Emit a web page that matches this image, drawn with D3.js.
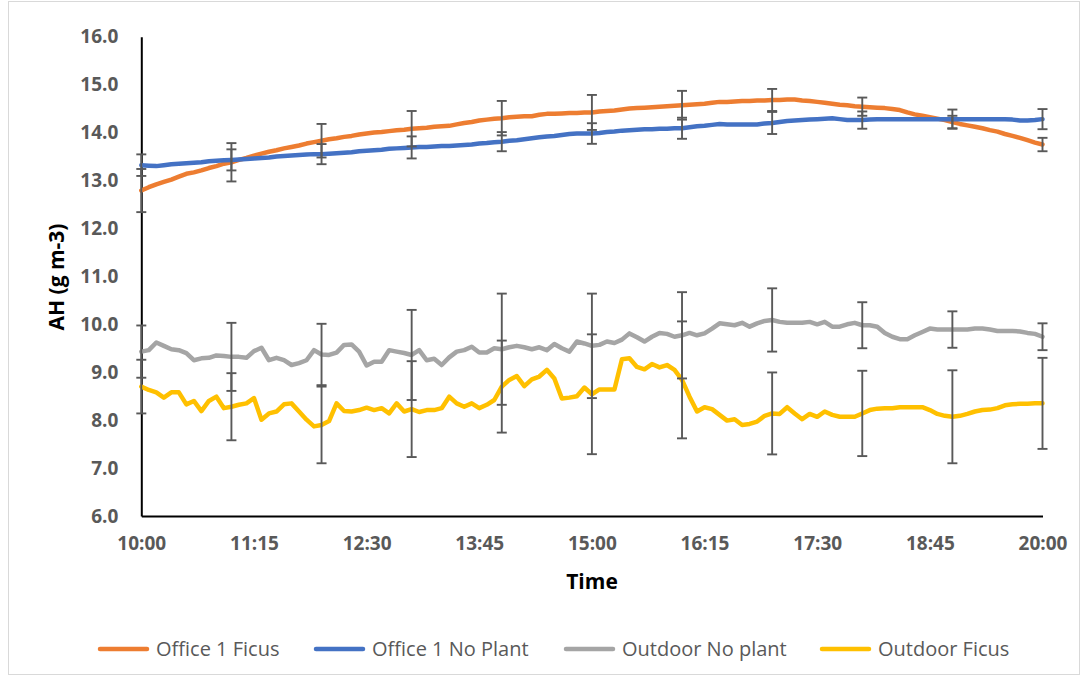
<!DOCTYPE html>
<html>
<head>
<meta charset="utf-8">
<script src="https://cdn.jsdelivr.net/npm/d3@7"></script>
<style>
  html, body { margin: 0; padding: 0; background: #fff; }
  svg { display: block; }
  text { font-family: "Open Sans", "Noto Sans", sans-serif; }
</style>
</head>
<body>
<svg id="chart" width="1088" height="678"></svg>
<script>
// Absolute humidity, 5-minute readings from 10:00 to 20:00
const startTime = "10:00";
const stepMinutes = 5;

const seriesNames = ["Office 1 Ficus", "Office 1 No Plant", "Outdoor No plant", "Outdoor Ficus"];
const seriesColors = ["#ED7D31", "#4472C4", "#A5A5A5", "#FFC000"];

const officeFicus = [
  12.79, 12.86, 12.92, 12.97, 13.02, 13.08, 13.14, 13.17, 13.21, 13.26, 13.30, 13.35, 13.38, 13.43, 13.47, 13.52,
  13.56, 13.60, 13.63, 13.67, 13.70, 13.73, 13.77, 13.80, 13.83, 13.86, 13.88, 13.91, 13.93, 13.96, 13.98, 14.00,
  14.01, 14.03, 14.05, 14.06, 14.08, 14.09, 14.10, 14.12, 14.13, 14.14, 14.17, 14.20, 14.22, 14.25, 14.27, 14.29,
  14.30, 14.32, 14.33, 14.34, 14.34, 14.37, 14.39, 14.39, 14.40, 14.41, 14.41, 14.42, 14.42, 14.44, 14.45, 14.46,
  14.48, 14.50, 14.51, 14.52, 14.53, 14.54, 14.55, 14.56, 14.57, 14.58, 14.59, 14.60, 14.62, 14.64, 14.64, 14.65,
  14.66, 14.66, 14.67, 14.67, 14.68, 14.68, 14.69, 14.69, 14.67, 14.66, 14.64, 14.62, 14.60, 14.58, 14.57, 14.55,
  14.54, 14.53, 14.52, 14.51, 14.49, 14.47, 14.42, 14.38, 14.35, 14.32, 14.29, 14.26, 14.22, 14.18, 14.15, 14.12,
  14.09, 14.05, 14.02, 13.97, 13.93, 13.89, 13.84, 13.79, 13.75
];

const officeNoPlant = [
  13.32, 13.31, 13.30, 13.32, 13.34, 13.35, 13.36, 13.37, 13.38, 13.40, 13.41, 13.42, 13.43, 13.44, 13.45, 13.46,
  13.47, 13.48, 13.50, 13.51, 13.52, 13.53, 13.54, 13.55, 13.55, 13.56, 13.57, 13.58, 13.59, 13.61, 13.62, 13.63,
  13.64, 13.66, 13.67, 13.68, 13.69, 13.70, 13.70, 13.71, 13.72, 13.72, 13.73, 13.74, 13.75, 13.77, 13.78, 13.80,
  13.81, 13.83, 13.84, 13.86, 13.88, 13.90, 13.92, 13.93, 13.95, 13.97, 13.98, 13.98, 13.98, 13.99, 14.01, 14.02,
  14.04, 14.05, 14.06, 14.07, 14.07, 14.08, 14.08, 14.09, 14.09, 14.11, 14.13, 14.14, 14.16, 14.18, 14.17, 14.17,
  14.17, 14.17, 14.17, 14.19, 14.20, 14.22, 14.24, 14.25, 14.26, 14.27, 14.28, 14.29, 14.30, 14.28, 14.26, 14.26,
  14.26, 14.27, 14.28, 14.28, 14.28, 14.28, 14.28, 14.28, 14.28, 14.28, 14.28, 14.28, 14.28, 14.28, 14.28, 14.28,
  14.28, 14.28, 14.28, 14.28, 14.27, 14.25, 14.25, 14.26, 14.28
];

const outdoorNoPlant = [
  9.43, 9.46, 9.62, 9.55, 9.48, 9.46, 9.40, 9.25, 9.29, 9.30, 9.35, 9.34, 9.32, 9.32, 9.30, 9.44,
  9.51, 9.25, 9.30, 9.25, 9.15, 9.19, 9.25, 9.46, 9.37, 9.36, 9.41, 9.57, 9.58, 9.43, 9.14, 9.22,
  9.22, 9.46, 9.43, 9.40, 9.36, 9.46, 9.25, 9.28, 9.15, 9.31, 9.43, 9.46, 9.53, 9.41, 9.41, 9.50,
  9.48, 9.52, 9.55, 9.52, 9.48, 9.52, 9.46, 9.59, 9.50, 9.43, 9.64, 9.60, 9.55, 9.57, 9.64, 9.61,
  9.68, 9.81, 9.73, 9.64, 9.74, 9.82, 9.80, 9.74, 9.77, 9.82, 9.77, 9.81, 9.91, 10.02, 10.00, 9.98,
  10.03, 9.95, 10.02, 10.07, 10.09, 10.05, 10.03, 10.03, 10.03, 10.05, 10.00, 10.05, 9.95, 9.95, 10.00, 10.03,
  9.98, 9.98, 9.95, 9.82, 9.74, 9.69, 9.69, 9.77, 9.84, 9.91, 9.89, 9.89, 9.89, 9.89, 9.89, 9.91,
  9.91, 9.89, 9.86, 9.86, 9.86, 9.85, 9.82, 9.80, 9.74
];

const outdoorFicus = [
  8.70, 8.63, 8.58, 8.47, 8.58, 8.58, 8.33, 8.40, 8.19, 8.40, 8.49, 8.25, 8.28, 8.32, 8.35, 8.46,
  8.01, 8.14, 8.18, 8.33, 8.35, 8.18, 8.01, 7.87, 7.90, 7.98, 8.35, 8.19, 8.18, 8.21, 8.26, 8.21,
  8.25, 8.14, 8.35, 8.18, 8.23, 8.17, 8.21, 8.21, 8.25, 8.49, 8.35, 8.28, 8.35, 8.25, 8.32, 8.42,
  8.70, 8.84, 8.92, 8.71, 8.85, 8.91, 9.05, 8.87, 8.45, 8.47, 8.50, 8.68, 8.54, 8.64, 8.64, 8.64,
  9.27, 9.29, 9.11, 9.06, 9.17, 9.10, 9.15, 9.05, 8.84, 8.49, 8.18, 8.27, 8.23, 8.11, 7.99, 8.02,
  7.90, 7.92, 7.97, 8.09, 8.14, 8.13, 8.27, 8.14, 8.02, 8.13, 8.07, 8.18, 8.11, 8.07, 8.07, 8.07,
  8.14, 8.21, 8.24, 8.25, 8.25, 8.27, 8.27, 8.27, 8.27, 8.21, 8.13, 8.09, 8.07, 8.09, 8.13, 8.18,
  8.21, 8.22, 8.25, 8.31, 8.33, 8.34, 8.34, 8.35, 8.35
];

// Hourly error bars (± one standard deviation)
const errorTimes = ["10:00", "11:00", "12:00", "13:00", "14:00", "15:00", "16:00", "17:00", "18:00", "19:00", "20:00"];
const officeFicusErr   = [0.45, 0.40, 0.35, 0.37, 0.36, 0.365, 0.30, 0.23, 0.19, 0.13, 0.14];
const officeNoPlantErr = [0.225, 0.22, 0.21, 0.23, 0.20, 0.215, 0.22, 0.23, 0.18, 0.20, 0.21];
const outdoorNoPlantErr = [0.545, 0.71, 0.64, 0.94, 1.16, 1.09, 0.90, 0.66, 0.48, 0.38, 0.28];
const outdoorFicusErr   = [0.56, 0.70, 0.80, 1.00, 0.96, 1.25, 1.22, 0.855, 0.89, 0.97, 0.95];

const xTickLabels = ["10:00", "11:15", "12:30", "13:45", "15:00", "16:15", "17:30", "18:45", "20:00"];
const yTicks = [6, 7, 8, 9, 10, 11, 12, 13, 14, 15, 16];

const toMinutes = s => { const [h, m] = s.split(":").map(Number); return h * 60 + m; };
const fmtTime = m => `${Math.floor(m / 60)}:${String(m % 60).padStart(2, "0")}`;

const values = [officeFicus, officeNoPlant, outdoorNoPlant, outdoorFicus];
const errors = [officeFicusErr, officeNoPlantErr, outdoorNoPlantErr, outdoorFicusErr];
const t0 = toMinutes(startTime);

const svg = d3.select("#chart");

// outer chart frame
svg.append("rect")
  .attr("x", 8.5).attr("y", 1.5).attr("width", 1071).attr("height", 673)
  .attr("fill", "#fff").attr("stroke", "#d9d9d9").attr("stroke-width", 1);

const x = d3.scaleLinear()
  .domain([toMinutes(xTickLabels[0]), toMinutes(xTickLabels[xTickLabels.length - 1])])
  .range([141.3, 1042.5]);
const y = d3.scaleLinear().domain([6, 16]).range([516, 36.7]);

// axes
const yAxis = svg.append("g")
  .attr("transform", `translate(${x.range()[0]},0)`)
  .call(d3.axisLeft(y).tickValues(yTicks).tickFormat(d3.format(".1f")).tickSize(0).tickPadding(23));
const xAxis = svg.append("g")
  .attr("transform", `translate(0,${y.range()[0]})`)
  .call(d3.axisBottom(x).tickValues(xTickLabels.map(toMinutes)).tickFormat(fmtTime).tickSize(0).tickPadding(21));

[yAxis, xAxis].forEach(g => {
  g.select(".domain").attr("stroke", "#000").attr("stroke-width", 2);
  g.selectAll("text")
    .attr("fill", "#595959")
    .style("font-size", "19px")
    .style("font-weight", 700)
    .style("font-family", "'Open Sans', sans-serif");
});

// axis titles
svg.append("text")
  .attr("transform", "translate(64,277) rotate(-90)")
  .attr("text-anchor", "middle")
  .attr("fill", "#000")
  .style("font-size", "21px").style("font-weight", 700)
  .text("AH (g m-3)");
svg.append("text")
  .attr("x", 592).attr("y", 589)
  .attr("text-anchor", "middle")
  .attr("fill", "#000")
  .style("font-size", "21px").style("font-weight", 700)
  .text("Time");

// series lines
const line = d3.line()
  .x((d, i) => x(t0 + i * stepMinutes))
  .y(d => y(d));

values.forEach((vals, k) => {
  svg.append("path")
    .datum(vals)
    .attr("d", line)
    .attr("fill", "none")
    .attr("stroke", seriesColors[k])
    .attr("stroke-width", 4.5)
    .attr("stroke-linejoin", "round")
    .attr("stroke-linecap", "round");
});

// error bars
const capHalf = 5;
values.forEach((vals, k) => {
  const g = svg.append("g").attr("stroke", "#595959").attr("stroke-width", 1.9).attr("fill", "none");
  errorTimes.forEach((t, j) => {
    const m = toMinutes(t);
    const idx = (m - t0) / stepMinutes;
    const v = vals[idx];
    const e = errors[k][j];
    const cx = x(m);
    g.append("line").attr("x1", cx).attr("x2", cx).attr("y1", y(v + e)).attr("y2", y(v - e));
    g.append("line").attr("x1", cx - capHalf).attr("x2", cx + capHalf).attr("y1", y(v + e)).attr("y2", y(v + e));
    g.append("line").attr("x1", cx - capHalf).attr("x2", cx + capHalf).attr("y1", y(v - e)).attr("y2", y(v - e));
  });
});

// legend
const legendX = [100, 316, 566, 822];
const legend = svg.append("g");
seriesNames.forEach((name, k) => {
  legend.append("line")
    .attr("x1", legendX[k]).attr("x2", legendX[k] + 47)
    .attr("y1", 649).attr("y2", 649)
    .attr("stroke", seriesColors[k]).attr("stroke-width", 4.5).attr("stroke-linecap", "round");
  legend.append("text")
    .attr("x", legendX[k] + 56).attr("y", 649)
    .attr("dy", "0.35em")
    .attr("fill", "#595959")
    .style("font-size", "20px")
    .text(name);
});
</script>
</body>
</html>
